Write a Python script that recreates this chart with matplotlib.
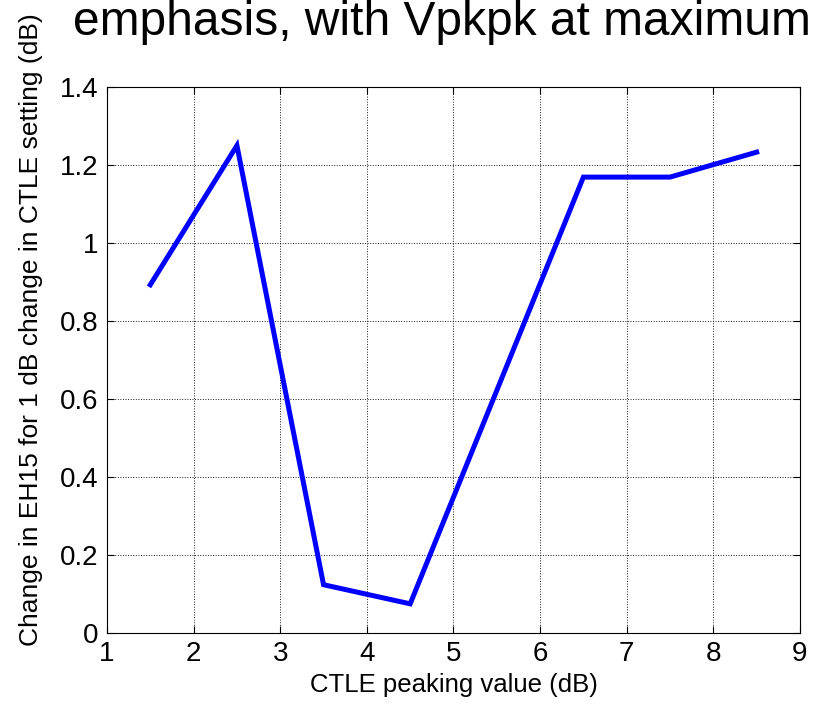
import matplotlib
matplotlib.use("Agg")
import matplotlib.pyplot as plt

x_vals = [1.5, 2.5, 3.5, 4.5, 5.5, 6.5, 7.5, 8.5]
y_vals = [0.893, 1.25, 0.124, 0.075, 0.622, 1.169, 1.169, 1.233]
x_ticks = [1, 2, 3, 4, 5, 6, 7, 8, 9]
y_ticks = [0, 0.2, 0.4, 0.6, 0.8, 1.0, 1.2, 1.4]
y_ticklabels = ["0", "0.2", "0.4", "0.6", "0.8", "1", "1.2", "1.4"]

plt.rcParams['font.family'] = ['Liberation Sans', 'DejaVu Sans']

fig = plt.figure(figsize=(8.23, 7.05), dpi=100)
ax = fig.add_axes([0.130, 0.102, 0.842, 0.7746])
ax.plot(x_vals, y_vals, color='#0000ff', linewidth=3.6, solid_joinstyle='miter')
ax.set_xlim(1, 9)
ax.set_ylim(0, 1.4)
ax.set_xticks(x_ticks)
ax.set_xticklabels([str(t) for t in x_ticks])
ax.set_yticks(y_ticks)
ax.set_yticklabels(y_ticklabels)
ax.tick_params(direction='in', length=5, width=0.8, labelsize=20, top=True, right=True, pad=6)
ax.grid(True, color='black', linestyle=':', linewidth=0.7, alpha=0.9)
for s in ax.spines.values():
    s.set_linewidth(0.8)
ax.set_xlabel('CTLE peaking value (dB)', fontsize=18.5, labelpad=4)
fig.text(0.038, 0.533, 'Change in EH15 for 1 dB change in CTLE setting (dB)',
         rotation=90, fontsize=19.0, ha='center', va='center')
fig.text(0.5365, 0.9504, 'emphasis, with Vpkpk at maximum', fontsize=34.5,
         ha='center', va='baseline')
fig.savefig('out.png', dpi=100)
